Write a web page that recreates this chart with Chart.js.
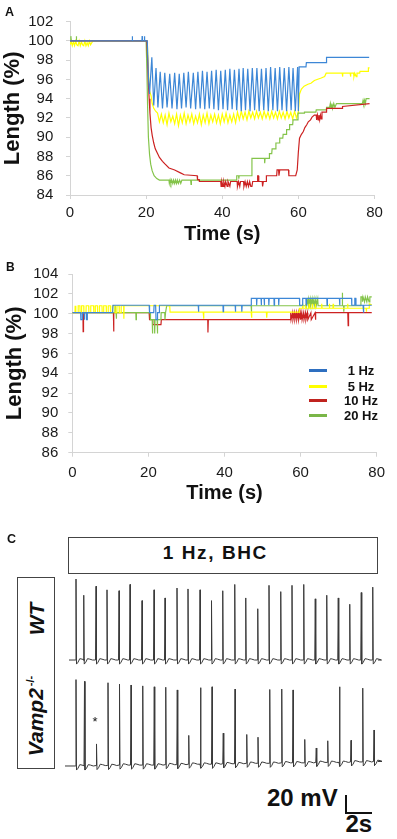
<!DOCTYPE html>
<html><head><meta charset="utf-8">
<script src="https://cdn.jsdelivr.net/npm/chart.js@4/dist/chart.umd.min.js"></script>
<style>
html,body{margin:0;padding:0;background:#fff;}
#wrap{position:relative;width:397px;height:839px;overflow:hidden;font-family:"Liberation Sans",Arial,Helvetica,sans-serif;color:#111;background:#fff;}
canvas{position:absolute;}
.t{position:absolute;font-weight:bold;white-space:nowrap;line-height:1;}
.box{position:absolute;border:1px solid #444;box-sizing:border-box;}
.rot{position:absolute;transform:translate(-50%,-50%) rotate(-90deg);white-space:nowrap;line-height:1;font-weight:bold;font-style:italic;}
.leg{position:absolute;height:3px;width:18px;}
.bar{position:absolute;background:#111;}
</style></head><body>
<div id="wrap">
<canvas id="cA" width="397" height="250" style="left:0;top:0"></canvas>
<canvas id="cB" width="397" height="250" style="left:0;top:255px"></canvas>
<canvas id="cWT" width="322" height="98" style="left:60px;top:574px"></canvas>
<canvas id="cKO" width="322" height="98" style="left:60px;top:676px"></canvas>

<div class="t" style="left:5px;top:6.4px;font-size:12.5px">A</div>
<div class="t" style="left:6px;top:261.4px;font-size:12px">B</div>
<div class="t" style="left:7px;top:533.4px;font-size:12.5px">C</div>

<div class="leg" style="left:309px;top:368.5px;background:#2e6fc0"></div>
<div class="leg" style="left:309px;top:384.5px;background:#ffff00"></div>
<div class="leg" style="left:309px;top:399px;background:#c0231f"></div>
<div class="leg" style="left:309px;top:414px;background:#7ab648"></div>
<div class="t" style="left:341px;width:40px;text-align:center;top:363.5px;font-size:13px">1 Hz</div>
<div class="t" style="left:341px;width:40px;text-align:center;top:379.5px;font-size:13px">5 Hz</div>
<div class="t" style="left:341px;width:40px;text-align:center;top:394.2px;font-size:13px">10 Hz</div>
<div class="t" style="left:341px;width:40px;text-align:center;top:409.2px;font-size:13px">20 Hz</div>

<div class="box" style="left:67.7px;top:537.3px;width:310px;height:36.7px"></div>
<div class="t" style="left:162.7px;top:542.5px;font-size:19px;letter-spacing:1.6px">1 Hz, BHC</div>
<div class="box" style="left:17.3px;top:577.3px;width:37.7px;height:192px"></div>
<div class="rot" style="left:35.8px;top:619.2px;font-size:21px">WT</div>
<div class="rot" style="left:35px;top:716px;font-size:21px">Vamp2<span style="font-size:11px;font-style:normal;vertical-align:9px;margin-left:2px">-/-</span></div>
<div class="t" style="left:92.5px;top:715px;font-size:13px;font-weight:normal">*</div>

<div class="t" style="left:267px;top:786.2px;font-size:24px">20 mV</div>
<div class="bar" style="left:345px;top:795px;width:2px;height:19px"></div>
<div class="bar" style="left:345px;top:812px;width:27px;height:2px"></div>
<div class="t" style="left:345.5px;top:811.9px;font-size:24px">2s</div>
</div>
<script>
// ---------- Panel A: length (%) vs time (s), [time, value] ----------
const aBlue = [[0,100],[16.3,100],[16.35,100.5],[16.45,100],[18.9,100],[18.95,100.5],[19.05,100],[19.5,100],[19.55,100.5],[19.65,100],[20.3,100],[20.6,96.3],[20.9,94.5],
[21.5,98.3],[22.0,93.3],[22.6,97.2],[23.1,93.1],[23.7,96.8],[24.3,93.0],[24.9,96.7],[25.5,93.1],[26.2,96.6],[26.8,93.0],[27.5,96.7],[28.1,92.9],[28.7,96.6],[29.3,93.0],[29.9,96.7],[30.5,93.1],[31.1,96.8],[31.7,93.0],[32.4,96.7],[33.0,92.9],[33.6,96.8],[34.2,93.0],[34.8,96.9],[35.4,92.9],[36.0,96.8],[36.6,93.0],[37.2,96.9],[37.8,92.9],[38.4,97.0],[39.0,92.8],[39.6,96.9],[40.2,92.9],[40.8,97.0],[41.4,92.8],[42.0,97.1],[42.6,92.9],[43.2,97.0],[43.8,92.8],[44.4,97.1],[45.0,92.7],[45.5,97.2],[46.1,92.8],[46.7,97.1],[47.3,92.7],[47.9,97.2],[48.5,92.8],[49.1,97.2],[49.7,92.7],[50.3,97.1],[50.9,92.8],[51.5,97.2],[52.1,92.7],[52.7,97.3],[53.3,92.8],[53.9,97.2],[54.5,92.7],[55.1,97.3],[55.7,92.8],[56.3,97.2],[56.9,92.7],[57.5,97.3],[58.1,92.8],[58.6,97.2],[59.2,92.7],[59.8,97.3],[60.0,92.7],
[60.2,97.3],[62.0,97.3],[62.1,97.75],[67.3,97.75],[67.4,98.3],[78.6,98.3]];

const aYellow = [[0,99.6],[0.3,100],[0.6,99.5],[0.9,99.9],[1.2,99.5],[1.5,100],[1.8,99.6],[2.1,99.5],[2.4,100],[2.7,99.5],[3.0,99.9],[3.3,99.6],[3.6,99.5],[3.9,100],[4.2,99.5],[4.5,99.8],[4.8,99.5],[5.1,100],[5.4,99.6],[6.0,100],[20.3,100],[20.6,96.8],[20.9,94.8],[21.3,94.3],[21.6,93.5],[22.0,93.0],[22.5,92.7],[23.0,92.5],
[23.5,91.6],[24.0,92.4],[24.5,91.5],[25.0,92.3],[25.5,91.3],[26.0,92.5],[26.5,91.6],[27.0,92.2],[27.5,91.4],[28.0,92.4],[28.5,91.2],[29.0,92.3],[29.5,91.5],[30.0,92.5],[30.5,91.4],[31.0,92.3],[31.5,91.6],[32.0,92.4],[32.5,91.4],[33.0,92.2],[33.5,91.5],[34.0,92.4],[34.5,91.3],[35.0,92.3],[35.5,91.5],[36.0,92.5],[36.5,91.4],[37.0,92.3],[37.5,91.6],[38.0,92.4],[38.5,91.5],[39.0,92.3],[39.5,91.4],[40.0,92.4],[40.5,91.6],[41.0,92.5],[41.5,91.5],[42.0,92.3],[42.5,91.6],[43.0,92.4],[43.5,91.5],[44.0,92.6],[44.5,91.8],[45.0,92.7],[45.5,91.9],[46.0,92.6],[46.5,91.8],[47.0,92.7],[47.5,92.0],[48.0,92.6],[48.5,91.9],[49.0,92.7],[49.5,92.0],[50.0,92.6],[50.5,91.9],[51.0,92.7],[51.5,92.0],[52.0,92.6],[52.5,91.9],[53.0,92.7],[53.5,92.0],[54.0,92.6],[54.5,91.9],[55.0,92.7],[55.5,92.0],[56.0,92.6],[56.5,91.9],[57.0,92.7],[57.5,92.0],[58.0,92.6],[58.5,91.9],[59.0,92.7],[59.5,92.0],[60.0,92.6],
[60.3,94.5],[60.8,95.0],[61.5,95.3],[62.5,95.5],[63.3,95.6],[64.2,95.9],[66.0,96.15],[66.9,96.3],[67.3,96.65],[71.5,96.65],[71.6,96.3],[71.7,96.65],[73.6,96.65],[73.7,96.3],[73.8,96.65],[74.5,96.65],[74.6,96.3],[74.8,96.65],[75.2,96.3],[75.4,96.65],[76.1,96.65],[76.2,96.85],[78.3,96.85],[78.4,97.2],[78.7,97.2]];

const aRed = [[0,100],[20.2,100],[20.4,98],[20.6,95.5],[20.8,94],[21.0,92.5],[21.3,91],[21.6,90.2],[22.0,89.4],[22.4,88.8],[23.0,88.3],[23.5,87.9],[24.3,87.5],[25.0,87.2],[26.0,86.8],[27.5,86.6],[29.0,86.3],[30.0,86.1],[33.4,86.0],[33.5,85.6],[33.9,85.6],[34.0,85.4],[39.6,85.4],[39.7,84.9],[39.9,85.4],[40.2,84.9],[40.4,85.4],[40.7,84.9],[40.9,85.4],[41.3,84.9],[41.5,85.4],[42.0,84.9],[42.2,85.4],[43.9,85.4],[44.0,84.9],[44.3,85.4],[44.6,84.9],[44.8,85.4],[45.6,85.4],[45.7,84.9],[46.0,85.4],[46.3,84.9],[46.6,85.4],[46.9,84.9],[47.2,85.4],[47.5,84.9],[47.8,84.9],[48.0,85.4],[49.2,85.4],[49.3,86.0],[49.5,86.0],[49.6,85.4],[50.5,85.4],[50.6,84.9],[50.8,85.4],[51.5,85.4],[51.6,86.0],[54.3,86.0],[54.4,86.6],[54.8,86.6],[54.9,86.0],[55.1,86.6],[57.4,86.6],[57.5,86.0],[59.3,86.0],[59.7,86.6],[60.0,88.5],[60.3,89.9],[60.8,90.3],[61.3,90.6],[61.7,91.0],[62.2,91.3],[62.6,91.6],[63.2,91.8],[63.6,92.1],[64.2,92.3],[64.7,92.3],[64.8,91.8],[65.0,92.3],[65.2,91.8],[65.4,92.3],[65.6,91.8],[65.8,92.3],[66.0,91.9],[66.2,92.6],[67.3,92.6],[67.4,93.0],[71.5,93.0],[71.6,93.2],[78.7,93.5]];

const aGreen = [[0,100],[0.2,100],[0.25,100.5],[0.35,100],[1.6,100],[1.65,100.5],[1.75,100],[20.0,100],[20.2,97],[20.4,93],[20.6,90],[20.9,88.2],[21.2,87.2],[21.6,86.5],[22.1,86.0],[22.8,85.7],[23.5,85.55],[26.0,85.55],[26.1,85.2],[26.3,85.55],[26.5,85.2],[26.7,85.55],[27.0,85.2],[27.2,85.55],[27.5,85.2],[27.7,85.55],[28.0,85.2],[28.2,85.55],[28.5,85.2],[28.8,85.55],[29.1,85.2],[29.4,85.55],[31.7,85.55],[31.8,85.1],[31.9,85.55],[43.7,85.55],[43.8,86.0],[44.3,86.0],[44.35,85.7],[44.45,86.0],[47.6,86.0],[47.8,87.8],[51.1,87.8],[51.15,87.3],[51.25,87.8],[52.3,87.8],[52.4,88.3],[53.0,88.3],[53.1,88.8],[54.0,88.8],[54.1,89.4],[55.0,89.4],[55.1,89.9],[55.9,89.9],[56.0,90.3],[56.8,90.3],[56.9,90.8],[57.6,90.8],[57.7,91.3],[58.5,91.3],[58.6,91.8],[59.8,91.8],[59.9,92.5],[61.5,92.5],[61.6,92.6],[64.6,92.6],[64.7,92.85],[67.3,92.85],[67.4,93.1],[68.2,93.1],[68.4,93.5],[68.6,93.0],[68.8,93.5],[69.0,93.0],[69.3,93.5],[69.6,93.1],[70.0,93.5],[76.8,93.5],[77.0,93.85],[77.2,93.5],[77.4,93.85],[77.6,93.5],[77.8,94.0],[78.7,94.0]];

// ---------- Panel B ----------
const bBlue = [[0,100.1],[2.2,100.1],[2.25,99.4],[2.6,99.4],[2.65,100.1],[3.1,100.1],[3.15,99.4],[3.3,100.1],[3.7,100.1],[3.75,99.4],[3.9,99.4],[3.95,100.1],[10.6,100.1],[10.7,100.85],[20.2,100.85],[20.3,100.1],[21.4,100.1],[21.5,100.85],[21.9,100.85],[22.0,99.4],[22.3,99.4],[22.4,100.1],[22.8,100.1],[22.9,100.85],[33.1,100.85],[33.15,100.2],[33.25,100.85],[39.6,100.85],[39.65,100.2],[39.75,100.85],[42.8,100.85],[42.85,100.2],[42.95,100.85],[44.5,100.85],[44.55,100.2],[44.65,100.85],[47.0,100.85],[47.05,101.55],[48.4,101.55],[48.45,100.85],[48.55,101.55],[49.6,101.55],[49.65,100.85],[49.75,101.55],[50.4,101.55],[50.45,100.85],[50.55,101.55],[51.6,101.55],[51.65,100.85],[51.75,101.55],[53.0,101.55],[53.05,100.85],[53.15,101.55],[54.2,101.55],[54.25,100.85],[54.35,101.55],[59.7,101.55],[59.75,100.85],[60.5,100.85],[60.55,101.55],[61.4,101.55],[61.45,100.85],[61.55,101.55],[66.9,101.55],[66.95,100.85],[67.05,101.55],[70.2,101.55],[70.25,100.85],[70.35,101.55],[73.4,101.55],[73.45,100.85],[74.2,100.85],[74.25,101.55],[74.5,101.55],[74.55,100.85],[76.4,100.85],[76.45,100.1],[76.6,100.1],[76.65,100.85],[78.7,100.85]];

const bYellow = [[0,100.1],[0.7,100.1],[0.75,100.8],[0.9,100.8],[0.95,100.1],[1.5,100.1],[1.55,100.8],[2.0,100.8],[2.05,100.1],[2.4,100.1],[2.45,100.8],[3.0,100.8],[3.05,100.1],[3.6,100.1],[3.65,100.8],[4.3,100.8],[4.35,100.1],[4.8,100.1],[4.85,100.8],[5.6,100.8],[5.65,100.1],[6.0,100.1],[6.05,100.8],[6.6,100.8],[6.65,100.1],[7.1,100.1],[7.15,100.8],[7.8,100.8],[7.85,100.1],[8.2,100.1],[8.25,100.8],[8.9,100.8],[8.95,100.1],[9.4,100.1],[9.45,100.8],[10.0,100.8],[10.05,100.1],[10.5,100.1],[10.55,100.8],[11.2,100.8],[11.25,100.1],[11.7,100.1],[11.75,100.8],[12.3,100.8],[12.35,100.1],[12.8,100.1],[12.85,100.8],[13.5,100.8],[13.55,99.5],[13.6,100.8],[25.6,100.8],[25.7,100.15],[34.4,100.15],[34.5,99.5],[34.6,100.15],[47.0,100.15],[47.1,99.6],[47.2,100.15],[51.0,100.15],[51.1,99.6],[51.2,100.15],[59.6,100.15],[59.7,100.55],[60.5,100.55],[60.55,101.0],[60.65,100.55],[61.3,100.55],[61.35,101.0],[61.45,100.55],[62.2,100.55],[62.25,101.0],[62.35,100.55],[63.0,100.55],[63.05,101.0],[63.15,100.55],[63.8,100.55],[63.85,101.0],[63.95,100.55],[65.5,100.55],[65.55,101.0],[65.65,100.55],[67.5,100.55],[67.55,101.0],[67.65,100.55],[68.5,100.55],[68.55,101.0],[68.65,100.55],[72.3,100.55],[72.35,101.0],[72.45,100.55],[77.2,100.55],[77.25,100.2],[77.4,100.55],[78.0,100.55],[78.05,101.0],[78.7,100.9]];

const bRed = [[0,100.1],[2.8,100.1],[2.85,98.2],[2.95,100.1],[10.8,100.1],[10.85,98.2],[10.95,100.1],[20.2,100.1],[20.3,99.4],[21.1,99.4],[21.15,98.9],[23.3,98.9],[23.4,99.4],[35.6,99.4],[35.65,98.1],[35.75,99.4],[57.3,99.4],[57.4,100.1],[57.5,99.4],[57.9,100.1],[58.0,99.4],[58.4,100.1],[58.5,99.4],[58.9,100.1],[59.0,99.4],[59.4,100.1],[59.5,99.4],[59.9,100.1],[60.0,99.4],[60.3,100.1],[60.4,99.4],[60.8,100.1],[60.9,99.4],[61.3,100.1],[61.4,99.4],[61.8,100.1],[61.9,99.4],[62.7,100.1],[62.8,99.4],[63.8,100.1],[63.9,99.4],[64.0,100.1],[72.4,100.1],[72.5,98.8],[72.6,100.1],[78.7,100.1]];

const bGreen = [[0,100.1],[11.2,100.1],[11.25,100.8],[11.35,100.1],[11.5,100.1],[11.55,99.5],[11.65,100.1],[16.7,100.1],[16.75,99.4],[16.85,100.1],[20.5,100.1],[20.55,99.4],[21.0,99.4],[21.05,98.0],[21.15,99.4],[21.6,99.4],[21.65,98.0],[21.75,99.4],[22.3,99.4],[22.35,98.0],[22.45,99.4],[23.3,99.4],[23.35,100.1],[24.3,100.1],[24.35,99.4],[24.5,100.1],[24.8,100.8],[47.0,100.8],[47.05,100.2],[47.15,100.8],[61.5,100.8],[61.55,101.5],[61.65,100.8],[62.0,101.5],[62.1,100.8],[62.5,101.5],[62.6,100.8],[63.0,101.5],[63.1,100.8],[63.5,101.5],[63.6,100.8],[64.0,101.5],[64.1,100.8],[64.5,101.5],[64.6,100.8],[70.9,100.8],[70.95,102.1],[71.05,100.8],[71.3,100.8],[71.35,100.2],[71.45,100.8],[75.8,100.8],[75.85,101.7],[76.2,101.7],[76.25,101.2],[76.4,101.7],[76.8,101.2],[77.0,101.7],[77.4,101.2],[77.6,101.7],[78.0,101.2],[78.2,101.7],[78.7,101.7]];

const timeTicks = [0, 20, 40, 60, 80];
const aLengthTicks = [84, 102];
const bLengthTicks = [86, 104];

// ---------- Panel C: membrane potential traces (1 Hz, BHC) ----------
// spike times (s) and spike amplitudes above local baseline (mV)
const wtSpikeT = [0.96,1.58,2.56,3.44,4.40,5.28,6.24,7.20,8.08,9.04,9.92,10.88,11.80,12.70,13.66,14.54,15.50,16.40,17.34,18.24,19.18,20.10,21.02,21.94,22.86,23.78,24.70];
const wtSpikeA = [90,72,82,78,77,84,66,78,69,80,79,78,66,77,84,69,57,83,76,83,84,68,72,69,62,75,81];
const wtBase   = [0,0,0,0,0,0,0,0,0,0,0,0,0,0,0,0,0,0,0,0,0,0,0,0,0,0,0];
const koSpikeT = [0.96,1.64,2.60,3.52,4.44,5.36,6.30,7.22,8.14,9.06,9.98,10.92,11.84,12.74,13.68,14.62,15.52,16.46,17.42,18.32,19.26,20.18,21.10,22.04,22.96,23.90,24.80];
const koSpikeA = [96,94,24,92,90,89,88,87,86,83,32,85,86,34,83,32,29,82,82,81,26,16,24,84,24,82,35];
const koBase   = [0,0,0.5,0.5,1,1,1,1,1.5,1.5,2,2,2,2.5,2.5,3,3,3,3.5,3.5,3.5,4,4,4,4.5,4.5,5];
// action potential waveform template: time offsets (s) and deflections (mV); index 1 = peak
const apDt = [-0.04, 0, 0.04, 0.16, 0.3, 0.48, 0.7];
const apDv = [0, null, -4.5, -2.5, 1.5, 1, 0];

const FONT = "'Liberation Sans', Arial, Helvetica, sans-serif";
const AXC = '#d4d4d4';
const toXY = p => p.map(d => ({x: d[0], y: d[1]}));
function ds(label, pts, color, w) {
  return {label, data: toXY(pts), borderColor: color, backgroundColor: color, borderWidth: w || 1.2,
          pointRadius: 0, tension: 0, fill: false};
}
function panel(id, sets, o) {
  new Chart(document.getElementById(id), {
    type: 'line',
    data: {datasets: sets},
    options: {
      responsive: false, animation: false, events: [],
      layout: {padding: {left: 0, right: o.right, top: o.top, bottom: 0}},
      plugins: {legend: {display: false}, tooltip: {enabled: false}},
      scales: {
        x: {type: 'linear', min: timeTicks[0], max: timeTicks[timeTicks.length - 1],
            afterFit: s => { s.height = o.xh; },
            ticks: {stepSize: 20, autoSkip: false, padding: o.xpad, font: {family: FONT, size: 15}, color: '#1a1a1a', maxRotation: 0},
            grid: {drawOnChartArea: false, tickLength: 4, color: AXC, tickColor: AXC},
            border: {color: AXC},
            title: {display: true, text: 'Time (s)', color: '#111',
                    font: {family: FONT, size: 20, weight: 'bold'}, padding: {top: 0, bottom: o.tpad}}},
        y: {type: 'linear', min: o.yr[0], max: o.yr[1],
            afterFit: s => { s.width = o.yw; },
            ticks: {stepSize: 2, autoSkip: false, padding: o.ypad, font: {family: FONT, size: 15}, color: '#1a1a1a'},
            grid: {drawOnChartArea: false, tickLength: 4, color: AXC, tickColor: AXC},
            border: {color: AXC},
            title: {display: true, text: 'Length (%)', color: '#111',
                    font: {family: FONT, size: 22, weight: 'bold'}, padding: {top: o.ytpad, bottom: 0}}}
      }
    }
  });
}
const C_BLUE = '#3d87d6', C_YEL = '#ffff00', C_RED = '#cc2222', C_GRN = '#84c44a';
panel('cA', [ds('1 Hz', aBlue, C_BLUE), ds('10 Hz', aRed, C_RED), ds('20 Hz', aGreen, C_GRN), ds('5 Hz', aYellow, C_YEL)],
      {right: 22.5, top: 16, xh: 55, yw: 70, xpad: 5.3, ypad: 12.7, tpad: 4, ytpad: 0, yr: aLengthTicks});
panel('cB', [ds('1 Hz', bBlue, C_BLUE), ds('5 Hz', bYellow, C_YEL), ds('20 Hz', bGreen, C_GRN), ds('10 Hz', bRed, C_RED)],
      {right: 20.3, top: 17.7, xh: 52.3, yw: 72.3, xpad: 7.5, ypad: 10, tpad: 0, ytpad: 2, yr: bLengthTicks});

function spikeTrace(t0, t1, times, amps, base) {
  const pts = [{x: t0, y: base[0]}];
  times.forEach((t, i) => {
    const b = base[i];
    apDt.forEach((dt, k) => pts.push({x: t + dt, y: k === 1 ? b + amps[i] : b + apDv[k]}));
  });
  pts.push({x: t1, y: base[base.length - 1]});
  return pts;
}
function tracePanel(id, pts, yr) {
  new Chart(document.getElementById(id), {
    type: 'line',
    data: {datasets: [{data: pts, borderColor: '#3a3a3a', borderWidth: 1, pointRadius: 0, tension: 0, fill: false}]},
    options: {
      responsive: false, animation: false, events: [],
      layout: {padding: 0},
      plugins: {legend: {display: false}, tooltip: {enabled: false}},
      scales: {x: {type: 'linear', display: false, min: -0.32, max: 25.44},
               y: {type: 'linear', display: false, min: yr[0], max: yr[1]}}
    }
  });
}
tracePanel('cWT', spikeTrace(0.4, 25.12, wtSpikeT, wtSpikeA, wtBase), [-13.3, 95.6]);
tracePanel('cKO', spikeTrace(0.08, 25.12, koSpikeT, koSpikeA, koBase), [-8.9, 100]);
</script>
</body></html>
